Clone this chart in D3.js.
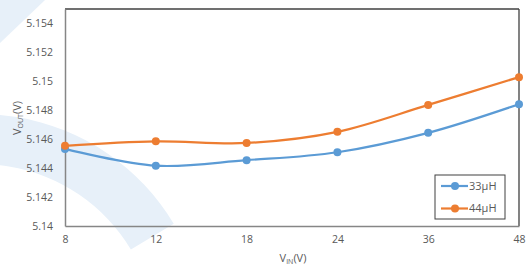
<!DOCTYPE html>
<html>
<head>
<meta charset="utf-8">
<script src="https://cdn.jsdelivr.net/npm/d3@7"></script>
<style>
  body { margin: 0; background: #fff; }
  text { font-family: "Open Sans", sans-serif; fill: #595959; }
</style>
</head>
<body>
<svg id="chart" width="527" height="268"></svg>
<script>
// data
var vin = ["8", "12", "18", "24", "36", "48"];
var l33 = [5.14533, 5.14417, 5.14455, 5.1451, 5.14644, 5.14842];
var l44 = [5.14554, 5.14585, 5.14574, 5.14651, 5.14837, 5.15029];
var yTicks = [5.14, 5.142, 5.144, 5.146, 5.148, 5.15, 5.152, 5.154];

var series = [
  { name: "33\u00b5H", values: l33, color: "#5b9bd5" },
  { name: "44\u00b5H", values: l44, color: "#ed7d31" }
];

var svg = d3.select("#chart");
// plot box (note: "top" is taken by window.top)
var pLeft = 65, pRight = 519, pTop = 9, pBottom = 226;

// light watermark behind everything
var wm = svg.append("g");
wm.append("path")
  .attr("d", "M0,0 L45,0 L0,43 Z")
  .style("fill", "#e7f0f9");
wm.append("path")
  .attr("transform", "translate(-20,340)")
  .attr("d", d3.arc()({ innerRadius: 176, outerRadius: 226, startAngle: -0.7, endAngle: 1.03 }))
  .style("fill", "#e7f0f9");

var x = d3.scalePoint().domain(vin).range([pLeft, pRight]);
var y = d3.scaleLinear().domain([5.14, 5.155]).range([pBottom, pTop]);

// frame
svg.append("line").attr("x1", pLeft).attr("x2", pRight).attr("y1", pTop).attr("y2", pTop)
  .style("stroke", "#404040").style("stroke-width", 1.3);
svg.append("line").attr("x1", pRight).attr("x2", pRight).attr("y1", pTop).attr("y2", pBottom)
  .style("stroke", "#404040").style("stroke-width", 1.3);

var xAxis = svg.append("g")
  .attr("transform", "translate(0," + pBottom + ")")
  .call(d3.axisBottom(x).tickSize(0).tickPadding(10));
var yAxis = svg.append("g")
  .attr("transform", "translate(" + pLeft + ",0)")
  .call(d3.axisLeft(y).tickValues(yTicks).tickSize(0).tickPadding(12)
    .tickFormat(function(d) { return +d.toFixed(3) + ""; }));

[xAxis, yAxis].forEach(function(a) {
  a.select(".domain").style("stroke", "#868686").style("stroke-width", 1.5);
  a.selectAll("text").style("font-size", "10.5px").style("fill", "#595959")
    .style("font-family", "'Open Sans', sans-serif");
});

var line = d3.line()
  .x(function(d, i) { return x(vin[i]); })
  .y(function(d) { return y(d); })
  .curve(d3.curveCatmullRom.alpha(0.5));

series.forEach(function(s) {
  svg.append("path")
    .datum(s.values)
    .attr("d", line)
    .style("fill", "none")
    .style("stroke", s.color)
    .style("stroke-width", 2.2);
  svg.selectAll(null)
    .data(s.values)
    .enter()
    .append("circle")
    .attr("cx", function(d, i) { return x(vin[i]); })
    .attr("cy", function(d) { return y(d); })
    .attr("r", 4)
    .style("fill", s.color);
});

// axis titles
var yt = svg.append("text")
  .attr("transform", "translate(21,118) rotate(-90)")
  .attr("text-anchor", "middle")
  .style("font-size", "11px");
yt.append("tspan").text("V");
yt.append("tspan").text("OUT").style("font-size", "7px").attr("dy", 2);
yt.append("tspan").text("(V)").attr("dy", -2);

var xt = svg.append("text")
  .attr("x", 293).attr("y", 262)
  .attr("text-anchor", "middle")
  .style("font-size", "11px");
xt.append("tspan").text("V");
xt.append("tspan").text("IN").style("font-size", "7px").attr("dy", 2);
xt.append("tspan").text("(V)").attr("dy", -2);

// legend
var lg = svg.append("g").attr("transform", "translate(435,175)");
lg.append("rect").attr("width", 70).attr("height", 44)
  .style("fill", "#fff").style("stroke", "#404040").style("stroke-width", 1);
series.forEach(function(s, i) {
  var g = lg.append("g").attr("transform", "translate(0," + (11 + i * 22.5) + ")");
  g.append("line").attr("x1", 6).attr("x2", 33).style("stroke", s.color).style("stroke-width", 2.2);
  g.append("circle").attr("cx", 20).attr("r", 4).style("fill", s.color);
  g.append("text").attr("x", 34).attr("dy", "0.35em").text(s.name).style("font-size", "11px");
});
</script>
</body>
</html>
